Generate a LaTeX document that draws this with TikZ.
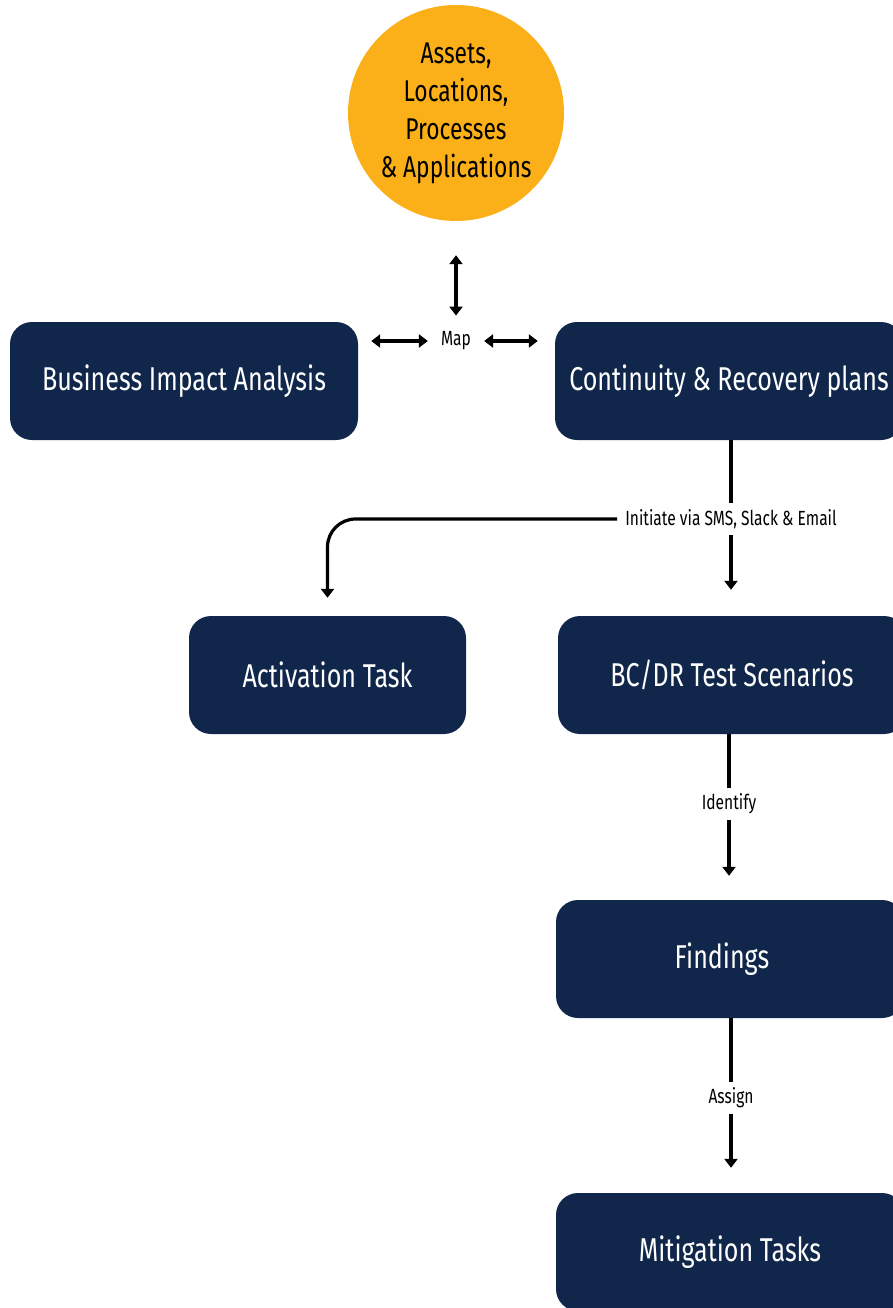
\documentclass[tikz,border=0pt]{standalone}
\usepackage{fontspec}
\setmainfont{Fira Sans}[FakeStretch=0.76]
\usetikzlibrary{arrows.meta}
\definecolor{navy}{HTML}{10264A}
\definecolor{amber}{HTML}{FBB019}
\begin{document}
\begin{tikzpicture}[x=1pt,y=-1pt,
  box/.style={fill=navy, rounded corners=22pt, minimum height=118pt, text=white,
              font=\fontsize{33}{38}\selectfont, inner sep=0pt},
  hub/.style={circle, fill=amber, minimum size=216pt, inner sep=0pt, align=center,
              font=\fontsize{30}{38}\selectfont},
  lbl/.style={font=\fontsize{20.5}{24}\selectfont, fill=white, inner xsep=8pt, inner ysep=6pt},
  conn/.style={line width=3.2pt, -{Triangle[width=13pt,length=9pt]}},
  plain/.style={line width=3.2pt},
  dconn/.style={line width=3.2pt, {Triangle[width=13pt,length=9pt]}-{Triangle[width=13pt,length=9pt]}},
]
\useasboundingbox (0,0) rectangle (893,1308);
\clip (0,0) rectangle (893,1308);

% nodes
\node[hub] (hub) at (456,113) {Assets,\\Locations,\\Processes\\\& Applications};
\node[box, minimum width=348pt] (bia) at (184,381) {Business Impact Analysis};
\node[box, minimum width=348pt] (cont) at (729,381) {Continuity \& Recovery plans};
\node[box, minimum width=277pt] (act) at (327.5,675) {Activation Task};
\node[box, minimum width=348pt] (bcdr) at (732,675) {BC/DR Test Scenarios};
\node[box, minimum width=348pt] (find) at (730,959) {\hspace*{-16pt}Findings};
\node[box, minimum width=348pt] (mit) at (730,1252) {Mitigation Tasks};

% Map hub
\node[font=\fontsize{20.5}{24}\selectfont, inner sep=0pt] (map) at (456,341) {Map};
\draw[dconn, shorten <=34pt, shorten >=16pt] (hub.south) -- (map.north);
\draw[dconn, shorten <=13pt, shorten >=13pt] (map.west) -- (map.west -| bia.east);
\draw[dconn, shorten <=13pt, shorten >=17pt] (map.east) -- (map.east -| cont.west);

% Initiate
\node[lbl] (init) at (731,519) {Initiate via SMS, Slack \& Email};
\draw[plain] (init.north |- cont.south) -- (init.north);
\draw[conn, shorten >=26pt] (init.south) -- (bcdr.north -| init.south);
\draw[conn, rounded corners=28pt, shorten >=18pt] (init.west) -| (act.north);

% Identify / Assign
\draw[conn, shorten >=24pt] (bcdr.south -| 729,0) -- node[lbl, pos=0.42] {Identify} (find.north -| 729,0);
\draw[conn, shorten >=25pt] (find.south -| 731,0) -- node[lbl, pos=0.457] {Assign} (mit.north -| 731,0);
\end{tikzpicture}
\end{document}
